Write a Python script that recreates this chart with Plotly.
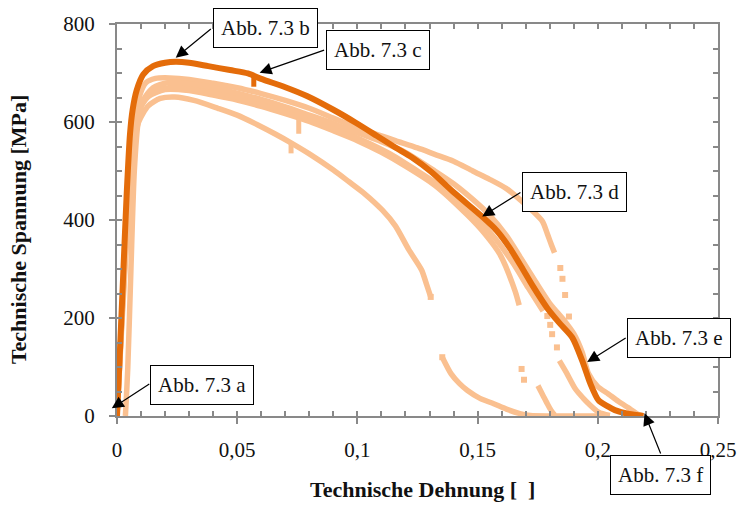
import plotly.graph_objects as go

# ---------------- data: engineering stress-strain curves ----------------
x_ticks = [0, 0.05, 0.1, 0.15, 0.2, 0.25]
x_ticktext = ["0", "0,05", "0,1", "0,15", "0,2", "0,25"]
y_ticks = [0, 200, 400, 600, 800]
y_ticktext = ["0", "200", "400", "600", "800"]

# highlighted specimen
main_strain = [0.0, 0.0012, 0.0027, 0.0040, 0.0054, 0.0065, 0.0082, 0.0109, 0.0150, 0.0200,
               0.0245, 0.0300, 0.0380, 0.0470, 0.0545, 0.0600, 0.0700,
               0.0790, 0.0900, 0.0995, 0.1080, 0.1158, 0.1226, 0.1308, 0.1404, 0.1519, 0.1580,
               0.1635, 0.1690, 0.1730, 0.1790, 0.1840, 0.1894, 0.1935, 0.1969, 0.2003, 0.2040,
               0.2071, 0.2130, 0.2190]
main_stress = [0, 130, 302, 450, 575, 625, 665, 697, 714, 721,
               723, 721, 714, 706, 699, 688, 671,
               653, 625, 598, 572, 548, 528, 498, 455, 407, 378,
               342, 298, 265, 220, 190, 160, 113, 66, 32, 20,
               12, 4, 0]
main_dip_strain = [0.0569, 0.0569]
main_dip_stress = [696, 672]

# further specimens
p1_strain = [0.0, 0.0015, 0.003, 0.0055, 0.0075, 0.0095, 0.012, 0.016, 0.022, 0.030,
             0.040, 0.050, 0.060, 0.070, 0.080, 0.090, 0.100, 0.108, 0.1158, 0.125,
             0.1322, 0.140, 0.148, 0.155, 0.162, 0.168, 0.173, 0.177, 0.179, 0.1805, 0.182]
p1_stress = [0, 150, 300, 510, 605, 655, 680, 689, 690, 687,
             679, 670, 658, 644, 628, 608, 588, 575, 562, 547,
             534, 520, 500, 483, 464, 440, 418, 397, 372, 352, 333]
p1_dots_strain = [0.1844, 0.1853, 0.1864, 0.1880]
p1_dots_stress = [302, 280, 247, 203]

p2_strain = [0.0035, 0.0045, 0.0058, 0.0072, 0.0088, 0.011, 0.015, 0.021, 0.030, 0.040,
             0.050, 0.060, 0.070, 0.080, 0.090, 0.100, 0.110, 0.120, 0.1322, 0.140,
             0.148, 0.155, 0.162, 0.168, 0.174, 0.180, 0.186, 0.190, 0.1935, 0.196,
             0.200, 0.2044, 0.2085, 0.2126, 0.217, 0.219]
p2_stress = [0, 100, 300, 500, 600, 645, 670, 680, 678, 670,
             659, 646, 631, 614, 597, 578, 560, 538, 500, 474,
             442, 410, 368, 322, 275, 230, 195, 168, 130, 88,
             60, 45, 30, 17, 3, 0]

p3_strain = [0.0, 0.002, 0.0045, 0.0065, 0.009, 0.013, 0.020, 0.030, 0.040, 0.050,
             0.060, 0.070, 0.080, 0.090, 0.100, 0.110, 0.120,
             0.1322, 0.1458, 0.153, 0.1594, 0.1656, 0.1673]
p3_stress = [0, 195, 420, 560, 622, 652, 666, 664, 655, 645,
             632, 617, 601, 582, 562, 538, 510,
             471, 410, 372, 329, 255, 226]
p3_dip_strain = [0.0756, 0.0756]
p3_dip_stress = [608, 576]
p3_dots_strain = [0.1683, 0.1693]
p3_dots_stress = [96, 74]
p3_tail_strain = [0.1751, 0.1772, 0.1790, 0.1805, 0.1820]
p3_tail_stress = [62, 42, 25, 12, 2]

p4_strain = [0.0, 0.002, 0.0042, 0.006, 0.008, 0.011, 0.016, 0.024, 0.035, 0.045,
             0.055, 0.065, 0.075, 0.085, 0.095, 0.105, 0.115, 0.125, 0.1322, 0.140,
             0.1499, 0.158, 0.165, 0.171, 0.1772]
p4_stress = [0, 200, 410, 545, 610, 645, 664, 671, 667, 657,
             645, 630, 614, 597, 578, 556, 531, 500, 477, 448,
             403, 358, 310, 262, 214]
p4_dots_strain = [0.1790, 0.1802, 0.1810, 0.1830]
p4_dots_stress = [204, 186, 167, 140]
p4_tail_strain = [0.1840, 0.1870, 0.1907, 0.1940, 0.1962, 0.2003, 0.2050]
p4_tail_stress = [113, 88, 55, 36, 25, 8, 1]

p5_strain = [0.0, 0.002, 0.0045, 0.0065, 0.009, 0.013, 0.018, 0.024, 0.032, 0.042,
             0.050, 0.0586, 0.066, 0.0722, 0.080, 0.090, 0.0965, 0.1029,
             0.1104, 0.1158, 0.1213, 0.1267, 0.1288, 0.1305]
p5_stress = [0, 185, 400, 535, 600, 633, 648, 651, 644, 628,
             614, 594, 575, 558, 535, 502, 478, 454,
             420, 388, 340, 298, 268, 243]
p5_dip_strain = [0.0724, 0.0724]
p5_dip_stress = [556, 536]
p5_tail_strain = [0.1353, 0.1390, 0.1425, 0.1458, 0.1510, 0.1567, 0.1620, 0.1676, 0.1720,
                  0.1800, 0.1900, 0.2050]
p5_tail_stress = [120, 86, 66, 52, 36, 25, 14, 5, 1, 0, 0, 0]

# ---------------- styling ----------------
DARK = "#E46C0A"
LIGHT = "#FAC090"
AXIS_GRAY = "#898989"
FONT = "Liberation Serif"
TEXT = "#111111"

fig = go.Figure()


def add_line(x, y, color, width, shape="spline"):
    fig.add_trace(go.Scatter(x=x, y=y, mode="lines", cliponaxis=False,
                             line=dict(color=color, width=width, shape=shape, smoothing=0.7),
                             showlegend=False, hoverinfo="skip"))


def add_dots(x, y, color, size=6):
    fig.add_trace(go.Scatter(x=x, y=y, mode="markers", cliponaxis=False,
                             marker=dict(symbol="square", color=color, size=size,
                                         line=dict(width=0)),
                             showlegend=False, hoverinfo="skip"))


for xs, ys in [(p5_strain, p5_stress), (p5_tail_strain, p5_tail_stress),
               (p3_strain, p3_stress), (p3_tail_strain, p3_tail_stress),
               (p4_strain, p4_stress), (p4_tail_strain, p4_tail_stress),
               (p1_strain, p1_stress), (p2_strain, p2_stress)]:
    add_line(xs, ys, LIGHT, 5.5)

for xs, ys in [(p3_dip_strain, p3_dip_stress), (p5_dip_strain, p5_dip_stress)]:
    add_line(xs, ys, LIGHT, 5, shape="linear")

add_dots(p5_strain[-1:], p5_stress[-1:], LIGHT)
add_dots(p5_tail_strain[:1], p5_tail_stress[:1], LIGHT)
add_dots(p3_dots_strain, p3_dots_stress, LIGHT)
add_dots(p4_dots_strain, p4_dots_stress, LIGHT)
add_dots(p1_dots_strain, p1_dots_stress, LIGHT)

add_line(main_strain, main_stress, DARK, 6)
add_line(main_dip_strain, main_dip_stress, DARK, 5, shape="linear")

# overlay axes carrying the small inside ticks on all four sides
fig.add_trace(go.Scatter(x=[None], y=[None], xaxis="x2", yaxis="y2",
                         showlegend=False, hoverinfo="skip"))

tick_font = dict(family=FONT, size=21, color=TEXT)

fig.update_layout(
    width=748, height=505,
    margin=dict(l=117, r=20, t=21, b=89),
    paper_bgcolor="white", plot_bgcolor="white",
    showlegend=False,
    xaxis=dict(range=[0, 0.25], tickmode="array", tickvals=x_ticks, ticktext=x_ticktext,
               ticks="outside", ticklen=6, tickwidth=1.5, tickcolor=AXIS_GRAY,
               showline=True, linecolor=AXIS_GRAY, linewidth=2, mirror=True,
               showgrid=False, zeroline=False, tickfont=tick_font,
               ticklabelstandoff=8),
    yaxis=dict(range=[0, 800], tickmode="array", tickvals=y_ticks, ticktext=y_ticktext,
               ticks="outside", ticklen=6, tickwidth=1.5, tickcolor=AXIS_GRAY,
               showline=True, linecolor=AXIS_GRAY, linewidth=2, mirror=True,
               showgrid=False, zeroline=False, tickfont=tick_font,
               ticklabelstandoff=10),
    xaxis2=dict(overlaying="x", anchor="y", side="bottom", range=[0, 0.25],
                tickmode="linear", tick0=0, dtick=0.01, ticks="inside", ticklen=5,
                tickwidth=1.5, tickcolor=AXIS_GRAY, mirror="ticks", showline=False,
                showticklabels=False, showgrid=False, zeroline=False),
    yaxis2=dict(overlaying="y", anchor="x", side="left", range=[0, 800],
                tickmode="linear", tick0=0, dtick=50, ticks="inside", ticklen=5,
                tickwidth=1.5, tickcolor=AXIS_GRAY, mirror="ticks", showline=False,
                showticklabels=False, showgrid=False, zeroline=False),
)

# plot area in pixels (for placing callouts)
PL, PT, PW, PH = 117, 21, 611, 395


def px(xp):
    return (xp - PL) / PW


def py(yp):
    return (PT + PH - yp) / PH


annotations = []

# axis titles
annotations.append(dict(text="<b>Technische Dehnung [\u00a0\u00a0]</b>", xref="paper", yref="paper",
                        x=px(428), y=py(490), showarrow=False, xanchor="center", yanchor="middle",
                        font=dict(family=FONT, size=22, color=TEXT)))
annotations.append(dict(text="<b>Technische Spannung [MPa]</b>", xref="paper", yref="paper",
                        x=px(17), y=py(228), showarrow=False, xanchor="center", yanchor="middle",
                        textangle=-90, font=dict(family=FONT, size=22, color=TEXT)))

# callout arrows: (tip x, tip y, tail x, tail y) in pixels
arrows = [
    (111.7, 408.3, 150.7, 383.0),
    (176.7, 55.0, 213.3, 25.0),
    (262.0, 70.0, 328.0, 47.0),
    (488.3, 215.0, 528.0, 190.0),
    (595.0, 361.7, 635.0, 336.7),
    (653.3, 413.3, 670.0, 455.0),
]
for tx, ty, sx, sy in arrows:
    annotations.append(dict(text="", xref="paper", yref="paper", x=px(tx), y=py(ty),
                            ax=sx - tx, ay=sy - ty, showarrow=True, arrowhead=2,
                            arrowsize=2.0, arrowwidth=1.2, arrowcolor="black", standoff=0))

# callout boxes: (label, centre x, centre y) in pixels
boxes = [
    ("Abb. 7.3 a", 203.3, 384.5),
    ("Abb. 7.3 b", 268.3, 25.0),
    ("Abb. 7.3 c", 382.3, 46.7),
    ("Abb. 7.3 d", 581.7, 190.5),
    ("Abb. 7.3 e", 688.3, 337.0),
    ("Abb. 7.3 f", 669.7, 475.0),
]
for label, cx, cy in boxes:
    annotations.append(dict(text=label, xref="paper", yref="paper", x=px(cx), y=py(cy),
                            showarrow=False, xanchor="center", yanchor="middle",
                            bgcolor="white", bordercolor="black", borderwidth=1, borderpad=7,
                            font=dict(family=FONT, size=21, color=TEXT)))

fig.update_layout(annotations=annotations)

fig.write_html("out.html")
